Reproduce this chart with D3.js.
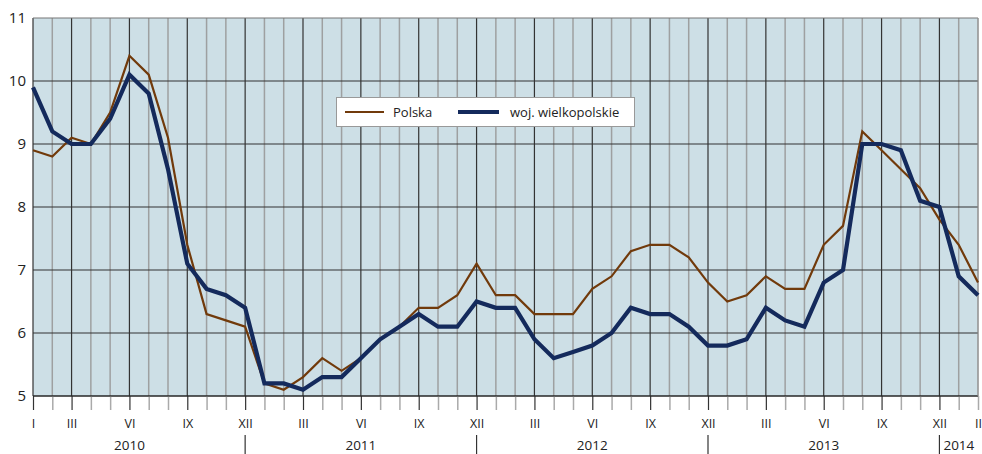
<!DOCTYPE html>
<html><head><meta charset="utf-8">
<script src="https://cdn.jsdelivr.net/npm/d3@7"></script>
<style>body{margin:0;background:#fff}svg{display:block}text{font-family:"Open Sans",sans-serif;fill:#222}</style>
</head><body><svg id="c" width="982" height="454"></svg>
<script>
const months = ["I","II","III","IV","V","VI","VII","VIII","IX","X","XI","XII"];
const years = ["2010","2011","2012","2013","2014"];
const categories = [];
years.forEach(y => months.forEach(m => categories.push(y + "-" + m)));
categories.length = 50; // I 2010 .. II 2014
const polska = [8.9,8.8,9.1,9.0,9.5,10.4,10.1,9.1,7.4,6.3,6.2,6.1,
  5.2,5.1,5.3,5.6,5.4,5.6,5.9,6.1,6.4,6.4,6.6,7.1,
  6.6,6.6,6.3,6.3,6.3,6.7,6.9,7.3,7.4,7.4,7.2,6.8,
  6.5,6.6,6.9,6.7,6.7,7.4,7.7,9.2,8.9,8.6,8.3,7.8,
  7.4,6.8];
const wielkopolskie = [9.9,9.2,9.0,9.0,9.4,10.1,9.8,8.6,7.1,6.7,6.6,6.4,
  5.2,5.2,5.1,5.3,5.3,5.6,5.9,6.1,6.3,6.1,6.1,6.5,
  6.4,6.4,5.9,5.6,5.7,5.8,6.0,6.4,6.3,6.3,6.1,5.8,
  5.8,5.9,6.4,6.2,6.1,6.8,7.0,9.0,9.0,8.9,8.1,8.0,
  6.9,6.6];
const yTicks = [5,6,7,8,9,10,11];
const labeledMonths = ["I","III","VI","IX","XII"];
const seriesNames = ["Polska","woj. wielkopolskie"];

const svg = d3.select("#c");
const L = 33, R = 978, T = 18, B = 396;
const x = d3.scalePoint().domain(categories).range([L, R]);
const y = d3.scaleLinear().domain([5, 11]).range([B, T]);
const step = x.step();

const isMajor = c => { const m = c.split("-")[1]; return m === "III" || m === "VI" || m === "IX" || m === "XII"; };

svg.append("rect").attr("x", L).attr("y", T).attr("width", R - L).attr("height", B - T).attr("fill", "#cddfe6");

// vertical grid
svg.append("g").selectAll("line").data(categories).join("line")
  .attr("x1", d => x(d)).attr("x2", d => x(d)).attr("y1", T).attr("y2", B)
  .attr("stroke", (d, i) => (isMajor(d) || i === 0) ? "#333" : "#9a9a9a")
  .attr("stroke-width", (d, i) => (isMajor(d) || i === 0) ? 1.2 : 1.5)
  .attr("opacity", (d, i) => (isMajor(d) || i === 0) ? 1 : 0.9);

// horizontal grid
svg.append("g").selectAll("line").data(yTicks).join("line")
  .attr("x1", L).attr("x2", R).attr("y1", d => y(d)).attr("y2", d => y(d))
  .attr("stroke", d => d === 11 ? "#777" : "#333").attr("stroke-width", 1.2);

// y axis labels
const ya = d3.axisLeft(y).tickValues(yTicks).tickSize(0).tickPadding(7).tickFormat(d3.format("d"));
const yg = svg.append("g").attr("transform", `translate(${L},0)`).call(ya);
yg.select(".domain").remove();
yg.selectAll("text").attr("font-size", 15).style("font-family", "'Open Sans',sans-serif").attr("fill", "#222");

// x axis ticks + month labels
const xa = d3.axisBottom(x).tickSize(14).tickPadding(9)
  .tickFormat((d, i) => { const m = d.split("-")[1]; return (i === 0 || i === categories.length - 1 || (labeledMonths.includes(m) && m !== "I")) ? m : ""; });
const xg = svg.append("g").attr("transform", `translate(0,${B})`).call(xa);
xg.select(".domain").remove();
xg.selectAll(".tick line").attr("stroke", (d, i) => (isMajor(d) || i === 0) ? "#333" : "#aaa").attr("stroke-width", (d, i) => (isMajor(d) || i === 0) ? 1.2 : 1.5);
xg.selectAll(".tick text").attr("font-size", 12.5).style("font-family", "'Open Sans',sans-serif").attr("fill", "#222");
svg.append("line").attr("x1", L).attr("x2", R).attr("y1", B).attr("y2", B).attr("stroke", "#222").attr("stroke-width", 1.2);
svg.append("line").attr("x1", R).attr("x2", R).attr("y1", T).attr("y2", B).attr("stroke", "#999").attr("stroke-width", 1);

// year separators and labels
const decs = categories.filter(c => c.endsWith("-XII"));
svg.append("g").selectAll("line").data(decs).join("line")
  .attr("x1", d => x(d)).attr("x2", d => x(d)).attr("y1", 435).attr("y2", 454)
  .attr("stroke", "#333").attr("stroke-width", 1.2);
const yearPos = yr => {
  const idx = categories.map((c, i) => c.startsWith(yr) ? i : -1).filter(i => i >= 0);
  if (yr === "2014") return x(categories[idx[0] - 1]) + 4;
  const a = x(categories[idx[0]]) - step, b = x(categories[idx[idx.length - 1]]);
  return (a + b) / 2;
};
svg.append("g").selectAll("text").data(years).join("text")
  .attr("x", d => yearPos(d)).attr("y", 450)
  .attr("text-anchor", d => d === "2014" ? "start" : "middle")
  .attr("font-size", 13.5).text(d => d);

// lines
const line = arr => d3.line().x((d, i) => x(categories[i])).y(d => y(d))(arr);
svg.append("path").attr("d", line(polska)).attr("fill", "none").attr("stroke", "#713a0b").attr("stroke-width", 2.2).attr("stroke-linejoin", "miter");
svg.append("path").attr("d", line(wielkopolskie)).attr("fill", "none").attr("stroke", "#142a5c").attr("stroke-width", 4.2).attr("stroke-linejoin", "miter");

// legend
const lg = svg.append("g");
lg.append("rect").attr("x", 336.5).attr("y", 97.5).attr("width", 298).attr("height", 29).attr("fill", "#fff").attr("stroke", "#999");
lg.append("line").attr("x1", 345).attr("x2", 384).attr("y1", 112).attr("y2", 112).attr("stroke", "#713a0b").attr("stroke-width", 2.2);
lg.append("text").attr("x", 393).attr("y", 117).attr("font-size", 13).text(seriesNames[0]);
lg.append("line").attr("x1", 458).attr("x2", 499).attr("y1", 112).attr("y2", 112).attr("stroke", "#142a5c").attr("stroke-width", 4.2);
lg.append("text").attr("x", 510).attr("y", 117).attr("font-size", 13).text(seriesNames[1]);
</script></body></html>
